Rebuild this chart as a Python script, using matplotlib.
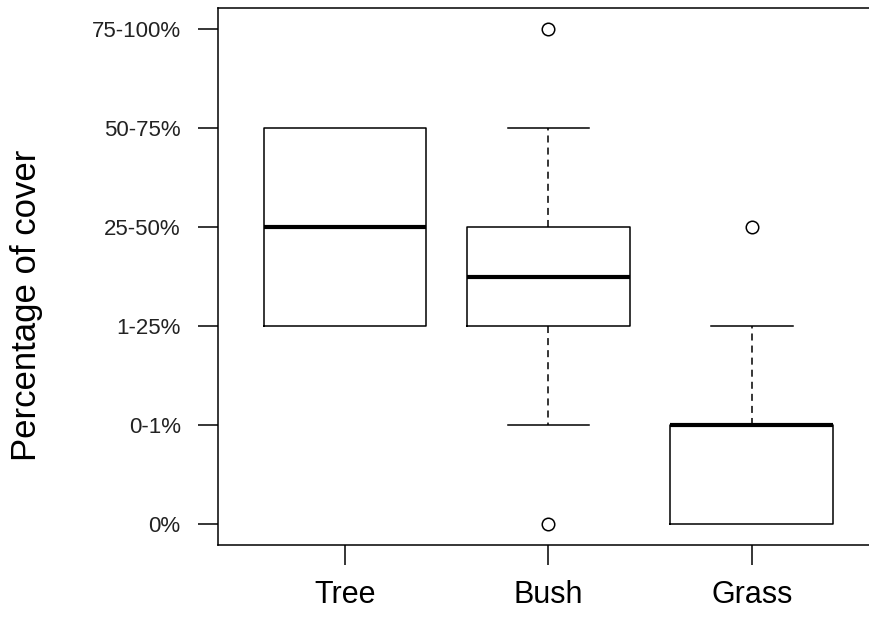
import matplotlib.pyplot as plt

plt.rcParams['font.family'] = ['Liberation Sans', 'DejaVu Sans']

# cover classes coded 0..5
categories = ['Tree', 'Bush', 'Grass']
q1 = [2, 2, 0]
med = [3, 2.5, 1]
q3 = [4, 3, 1]
whislo = [2, 1, 0]
whishi = [4, 4, 2]
fliers = [[], [0, 5], [3]]
ytick_labels = ['0%', '0-1%', '1-25%', '25-50%', '50-75%', '75-100%']

stats = []
for i, name in enumerate(categories):
    stats.append(dict(label=name, q1=q1[i], med=med[i], q3=q3[i],
                      whislo=whislo[i], whishi=whishi[i], fliers=fliers[i]))

fig = plt.figure(figsize=(8.69, 6.19), dpi=100)
W, H = 869, 619
# axes box in pixels (right spine lies outside the picture)
left, right, top, bottom = 218, 878, 8, 545
ax = fig.add_axes([left / W, 1 - bottom / H, (right - left) / W, (bottom - top) / H])

lw = 1.1
parts = ax.bxp(stats, positions=[1, 2, 3], widths=0.8, capwidths=0.4, showfliers=True,
               boxprops=dict(color='black', linewidth=lw),
               medianprops=dict(color='black', linewidth=3.0, solid_capstyle='butt'),
               whiskerprops=dict(color='black', linewidth=lw, linestyle=(0, (4.6, 3.3))),
               capprops=dict(color='black', linewidth=lw),
               flierprops=dict(marker='o', markersize=9, markerfacecolor='none',
                               markeredgecolor='black', markeredgewidth=lw))

# caps that sit on the box edge are not visible separately
for i in range(len(categories)):
    if whislo[i] == q1[i]:
        parts['caps'][2 * i].set_visible(False)
    if whishi[i] == q3[i]:
        parts['caps'][2 * i + 1].set_visible(False)

ax.set_xlim(0.376, 3.62)
ax.set_ylim(-0.21, 5.21)
ax.set_yticks(range(6))
ax.set_yticklabels(ytick_labels, fontsize=16, color='#222222')
ax.set_xticks([1, 2, 3])
ax.set_xticklabels(categories, fontsize=22)

ax.tick_params(axis='y', length=14.4, width=lw, pad=12.5)
ax.tick_params(axis='x', length=14.4, width=lw, pad=11)
for s in ax.spines.values():
    s.set_linewidth(lw)

fig.text(27 / W, 1 - 305 / H, 'Percentage of cover', rotation=90,
         ha='center', va='center', fontsize=25)

fig.savefig('out.png', dpi=100)
